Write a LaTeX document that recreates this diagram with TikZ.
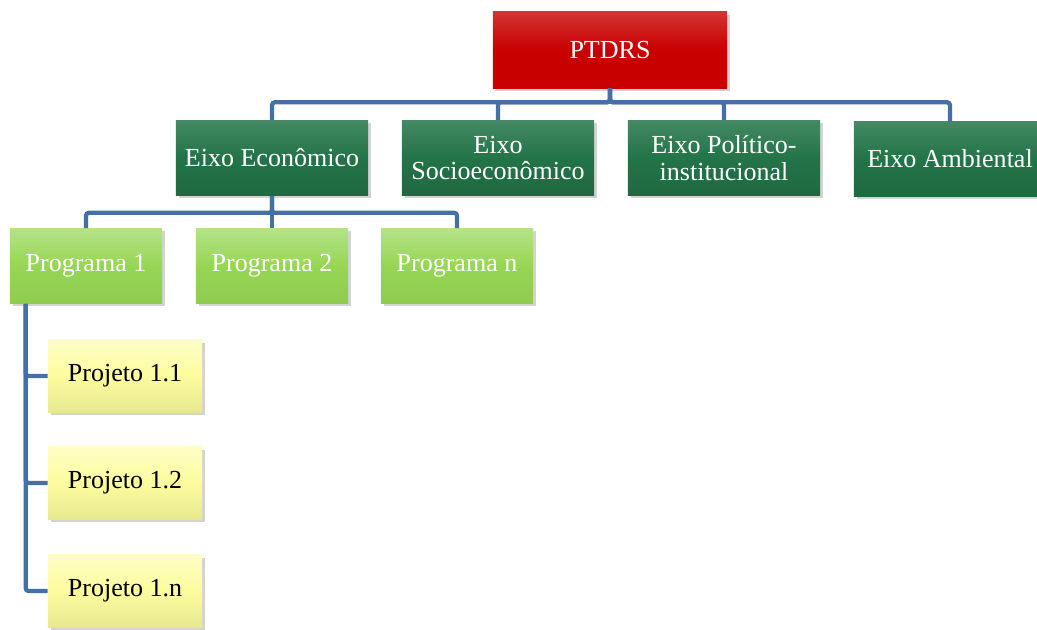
\documentclass[tikz,border=0pt]{standalone}
\usepackage{fontspec}
\setmainfont{Liberation Serif}
\usetikzlibrary{shadows}

\definecolor{ptred}{RGB}{200,0,0}
\definecolor{eixogreen}{RGB}{35,116,72}
\definecolor{proggreen}{RGB}{150,214,84}
\definecolor{projyellow}{RGB}{252,252,158}
\definecolor{linkblue}{RGB}{68,112,166}

\begin{document}
\begin{tikzpicture}[x=0.025cm, y=-0.025cm,
    box/.style={rectangle, inner sep=2pt, align=center,
                font=\fontsize{18.5}{19}\selectfont,
                drop shadow={shadow xshift=2pt, shadow yshift=-2pt, opacity=0.35}},
    topbox/.style={box, minimum width=5.85cm, minimum height=1.9cm,
                   top color=ptred!80!white, bottom color=ptred, middle color=ptred, text=white},
    eixobox/.style={box, minimum width=4.8cm, minimum height=1.875cm,
                    top color=eixogreen!85!white, bottom color=eixogreen!90!black, middle color=eixogreen, text=white},
    progbox/.style={box, minimum width=3.8cm, minimum height=1.875cm,
                    top color=proggreen!70!white, bottom color=proggreen!95!black, middle color=proggreen, text=white},
    projbox/.style={box, minimum width=3.85cm, minimum height=1.8cm,
                    top color=projyellow!60!white, bottom color=projyellow!92!black, middle color=projyellow, text=black},
    link/.style={draw=linkblue, line width=3pt, rounded corners=2pt}]

    \useasboundingbox (0,0) rectangle (1037,630);

    \node[topbox] (ptdrs) at (610,50) {PTDRS};

    \node[eixobox] (eco)   at (272,158) {Eixo Econômico};
    \node[eixobox] (socio) at (498,158) {Eixo\\Socioeconômico};
    \node[eixobox] (pol)   at (724,158) {Eixo Político-\\institucional};
    \node[eixobox] (amb)   at (950,159) {Eixo Ambiental};

    \node[progbox] (prog1) at (86,266)  {Programa 1};
    \node[progbox] (prog2) at (272,266) {Programa 2};
    \node[progbox] (progn) at (457,266) {Programa n};

    \node[projbox] (proj11) at (125,376) {Projeto 1.1};
    \node[projbox] (proj12) at (125,483) {Projeto 1.2};
    \node[projbox] (proj1n) at (125,591) {Projeto 1.n};

    \draw[link] (ptdrs.south) -- ++(0,14) -| (eco.north);
    \draw[link] (ptdrs.south) -- ++(0,14) -| (socio.north);
    \draw[link] (ptdrs.south) -- ++(0,14) -| (pol.north);
    \draw[link] (ptdrs.south) -- ++(0,14) -| (amb.north);

    \draw[link] (eco.south) -- ++(0,17) -| (prog1.north);
    \draw[link] (eco.south) -- (prog2.north);
    \draw[link] (eco.south) -- ++(0,17) -| (progn.north);

    \coordinate (spine) at ([xshift=0.4cm]prog1.south west);
    \draw[link] (spine) |- (proj11.west);
    \draw[link] (spine) |- (proj12.west);
    \draw[link] (spine) |- (proj1n.west);
\end{tikzpicture}
\end{document}
